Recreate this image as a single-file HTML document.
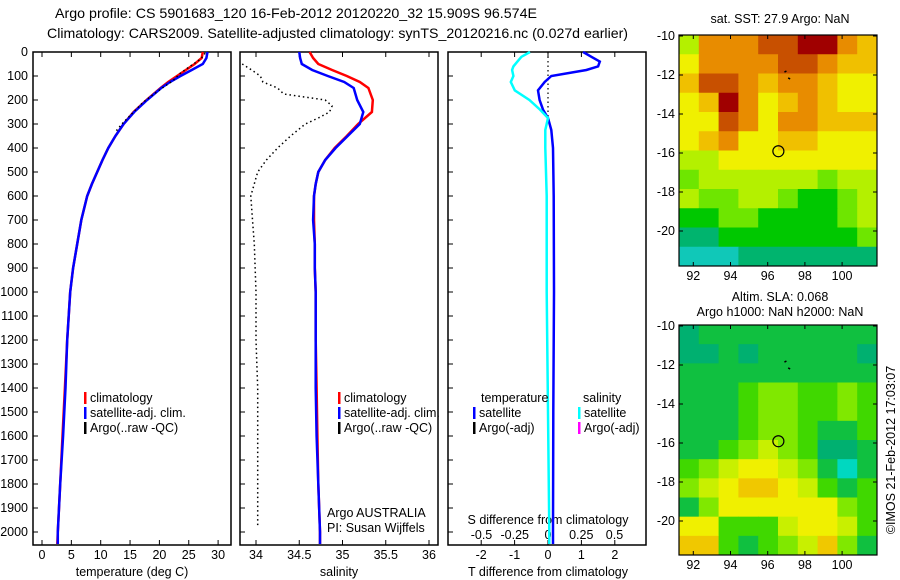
<!DOCTYPE html>
<html><head><meta charset="utf-8"><style>
body{margin:0;background:#fff}
svg{display:block;font-family:"Liberation Sans",sans-serif;font-size:12.5px}
</style></head><body>
<svg id="c" width="900" height="580" xmlns="http://www.w3.org/2000/svg">
<text x="55" y="18" font-size="14" textLength="482" lengthAdjust="spacingAndGlyphs">Argo profile: CS 5901683_120 16-Feb-2012 20120220_32 15.909S 96.574E</text>
<text x="47" y="38" font-size="14" textLength="581" lengthAdjust="spacingAndGlyphs">Climatology: CARS2009. Satellite-adjusted climatology: synTS_20120216.nc (0.027d earlier)</text>
</svg>
<script>
const depthLevels=[0,25,50,75,100,125,150,200,250,300,350,400,450,500,550,600,700,800,900,1000,1200,1400,1600,1800,2000,2050];
const tempClim=[27.4,27.2,26.0,24.5,23.0,21.5,20.2,17.8,15.6,13.9,12.5,11.3,10.3,9.4,8.5,7.7,6.7,6.0,5.3,4.8,4.3,3.9,3.5,3.1,2.7,2.6];
const tempSat=[28.2,28.0,27.4,25.5,23.6,21.8,20.3,17.9,15.7,13.9,12.5,11.3,10.3,9.4,8.5,7.7,6.7,6.0,5.3,4.8,4.3,4.0,3.6,3.1,2.7,2.7];
const argoTempDepth=[5,30,60,90,120,150,180,210,240,270,300,330];
const argoTemp=[27.8,27.0,25.2,23.5,22.3,20.5,18.8,17.2,16.0,14.8,13.6,12.6];
const salClim=[34.62,34.66,34.72,34.88,35.05,35.20,35.30,35.35,35.34,35.18,35.05,34.91,34.80,34.72,34.69,34.67,34.67,34.68,34.68,34.69,34.69,34.70,34.71,34.72,34.74,34.74];
const salSat=[34.50,34.51,34.53,34.65,34.83,35.02,35.13,35.17,35.24,35.20,35.06,34.92,34.80,34.72,34.69,34.67,34.66,34.68,34.68,34.69,34.69,34.69,34.70,34.72,34.74,34.74];
const argoSalDepth=[50,75,100,125,150,175,200,225,250,275,300,350,400,450,500,600,700,800,1000,1200,1400,1600,1800,1980];
const argoSal=[33.84,33.95,34.05,34.08,34.25,34.32,34.80,34.88,34.85,34.72,34.57,34.40,34.25,34.12,34.02,33.94,33.96,33.98,34.0,34.0,34.02,34.02,34.02,34.02];
const diffDepth=[0,20,40,60,75,100,125,160,200,240,275,325,400,600,1000,1500,2000,2050];
const tDiff=[1.05,1.3,1.55,1.5,1.15,0.1,-0.1,-0.3,-0.25,-0.15,0.0,0.1,0.15,0.17,0.18,0.16,0.15,0.15];
const sDiff=[-0.135,-0.2,-0.23,-0.26,-0.27,-0.26,-0.28,-0.25,-0.14,-0.06,0.0,-0.02,-0.02,-0.01,-0.01,0.0,0.01,0.01];
const depthTicks=[0,100,200,300,400,500,600,700,800,900,1000,1100,1200,1300,1400,1500,1600,1700,1800,1900,2000];
const tempTicks=[0,5,10,15,20,25,30];
const salTicks=[34,34.5,35,35.5,36];
const tDiffTicks=[-2,-1,0,1,2];
const sDiffTicks=[-0.5,-0.25,0,0.25,0.5];
const lonTicks=[92,94,96,98,100];
const latTicks=[-10,-12,-14,-16,-18,-20];
const argoLon=96.574, argoLat=-15.909;
const sstGrid=[
[4,7,7,7,8,8,9,9,7,6],
[5,7,7,7,7,8,8,7,6,6],
[6,8,8,7,6,7,7,6,5,5],
[5,6,9,7,5,6,7,6,5,5],
[5,5,8,7,5,7,7,6,6,6],
[5,6,7,5,5,6,6,5,5,5],
[4,4,5,5,5,5,5,5,5,5],
[3,4,4,4,4,4,4,3,4,4],
[4,3,3,4,4,3,2,2,3,4],
[2,2,3,3,2,2,2,2,3,4],
[1,1,2,2,2,2,2,2,2,3],
[0,0,0,1,1,1,1,1,1,1]];
const slaGrid=[
[1,2,2,2,2,2,2,2,2,2],
[1,1,2,1,2,2,2,2,2,1],
[2,2,2,2,2,2,2,2,2,2],
[2,2,2,3,4,4,3,3,4,3],
[2,2,2,3,4,4,3,3,4,3],
[2,2,2,3,4,4,3,2,2,3],
[2,2,3,4,5,4,3,1,1,2],
[3,4,5,6,6,5,4,2,0,2],
[4,5,6,7,7,6,5,3,2,3],
[2,4,6,6,6,6,6,6,4,3],
[6,6,3,3,3,5,6,6,5,3],
[7,7,3,2,3,4,5,7,4,2]];
const sstColors=["#10c8b8","#00b46e","#00c800","#6ee600","#b4f000","#f0f000","#f0c000","#e88c00","#c85000","#a00000"];
const slaColors=["#00d8c0","#00b070","#10c040","#40d800","#80e800","#c8f000","#f0f000","#f0c800"];

const NS="http://www.w3.org/2000/svg";
const svg=document.getElementById('c');
function mk(tag,attrs,parent){const e=document.createElementNS(NS,tag);for(const k in attrs)e.setAttribute(k,attrs[k]);(parent||svg).appendChild(e);return e;}
function txt(x,y,s,anchor,parent){const t=mk('text',{x:x,y:y,'text-anchor':anchor||'start'},parent);t.textContent=s;return t;}

const Y0=52,Y1=545;
const yD=d=>Y0+d*0.24;
const xT=v=>42+v*5.87;
const xS=v=>256+(v-34)*86.5;
const xTD=v=>548+v*33.4;
const xSD=v=>548+v*133;

function panel(x0,x1,name){
  const g=mk('g',{});
  
  
  mk('rect',{x:x0,y:Y0,width:x1-x0,height:Y1-Y0,fill:'none',stroke:'#000','stroke-width':1.5},g);
  depthTicks.forEach(d=>{mk('line',{x1:x0,x2:x0+5,y1:yD(d),y2:yD(d),stroke:'#000'},g);});
  return g;
}
function xticks(g,ticks,f,labelY){
  ticks.forEach(v=>{const x=f(v);
    mk('line',{x1:x,x2:x,y1:Y1,y2:Y1-5,stroke:'#000'},g);
    mk('line',{x1:x,x2:x,y1:Y0,y2:Y0+5,stroke:'#000'},g);
    if(labelY) txt(x,labelY,String(v),'middle',g);
  });
}
function line(g,xs,ds,fx,color,w,name,dash){
  const p=xs.map((v,i)=>fx(v).toFixed(1)+','+yD(ds[i]).toFixed(1)).join(' ');
  const e=mk('polyline',{points:p,fill:'none',stroke:color,'stroke-width':w},g);
  if(dash)e.setAttribute('stroke-dasharray',dash);
  
  
  return e;
}
function legend(g,x,y,color,label,name){
  mk('rect',{x:x,y:y-10,width:2.5,height:12,fill:color},g);
  const t=txt(x+6,y,label,'start',g);
  
  
}

depthTicks.forEach(d=>{txt(28,yD(d)+4,String(d),'end');});

const p1=panel(33,231,'temperature-panel');
xticks(p1,tempTicks,xT,559);
const xl1=txt(132,576,'temperature (deg C)','middle',p1);
line(p1,tempClim,depthLevels,xT,'#f00',2.5,'temp-climatology-line');
line(p1,tempSat,depthLevels,xT,'#00f',2.5,'temp-satellite-line');
line(p1,argoTemp,argoTempDepth,xT,'#000',1.5,'temp-argo-line','1.5 3');
legend(p1,84,402,'#f00','climatology','legend-climatology');
legend(p1,84,417,'#00f','satellite-adj. clim.','legend-satellite');
legend(p1,84,432,'#000','Argo(..raw -QC)','legend-argo');

const p2=panel(240,438,'salinity-panel');
xticks(p2,salTicks,xS,559);
const xl2=txt(339,576,'salinity','middle',p2);
line(p2,argoSal,argoSalDepth,xS,'#000',1.5,'sal-argo-line','1.5 3');
line(p2,salClim,depthLevels,xS,'#f00',2.5,'sal-climatology-line');
line(p2,salSat,depthLevels,xS,'#00f',2.5,'sal-satellite-line');
legend(p2,338,402,'#f00','climatology','legend-sal-climatology');
legend(p2,338,417,'#00f','satellite-adj. clim.','legend-sal-satellite');
legend(p2,338,432,'#000','Argo(..raw -QC)','legend-sal-argo');
txt(327,517,'Argo AUSTRALIA','start',p2);
txt(327,532,'PI: Susan Wijffels','start',p2);

const p3=panel(448,646,'difference-panel');
xticks(p3,tDiffTicks,xTD,559);
sDiffTicks.forEach(v=>txt(xSD(v),539,String(v),'middle',p3));
txt(548,524,'S difference from climatology','middle',p3);
const xl3=txt(548,576,'T difference from climatology','middle',p3);
mk('line',{x1:xTD(0),x2:xTD(0),y1:yD(0),y2:yD(280),stroke:'#000','stroke-dasharray':'1.5 3','stroke-width':1.2},p3);
line(p3,tDiff,diffDepth,xTD,'#00f',2.5,'t-diff-satellite-line');
line(p3,sDiff,diffDepth,xSD,'#0ff',2.5,'s-diff-satellite-line');
txt(481,402,'temperature','start',p3);
txt(583,402,'salinity','start',p3);
legend(p3,473,417,'#00f','satellite','legend-t-satellite');
legend(p3,473,432,'#000','Argo(-adj)','legend-t-argo');
legend(p3,578,417,'#0ff','satellite','legend-s-satellite');
legend(p3,578,432,'#f0f','Argo(-adj)','legend-s-argo');

function map(top,bot,grid,colors,name){
  const MX0=679,MX1=877;
  const g=mk('g',{});
  
  
  const rows=grid.length,cols=grid[0].length;
  const cw=(MX1-MX0)/cols,ch=(bot-top)/rows;
  grid.forEach((r,i)=>r.forEach((v,j)=>{
    mk('rect',{x:MX0+j*cw,y:top+i*ch,width:cw+0.5,height:ch+0.5,fill:colors[v]},g);
  }));
  const lx=v=>693.3+(v-92)*18.6;
  const ly=v=>top+1+(-10-v)*19.5;
  mk('rect',{x:MX0,y:top,width:MX1-MX0,height:bot-top,fill:'none',stroke:'#000','stroke-width':1.2},g);
  lonTicks.forEach(v=>{const x=lx(v);
    mk('line',{x1:x,x2:x,y1:top,y2:top+4,stroke:'#000'},g);
    mk('line',{x1:x,x2:x,y1:bot,y2:bot-4,stroke:'#000'},g);
    txt(x,bot+14,String(v),'middle',g);});
  latTicks.forEach(v=>{const y=ly(v);
    mk('line',{x1:MX0,x2:MX0+4,y1:y,y2:y,stroke:'#000'},g);
    mk('line',{x1:MX1,x2:MX1-4,y1:y,y2:y,stroke:'#000'},g);
    txt(MX0-4,y+4,String(v),'end',g);});
  const c=mk('circle',{cx:lx(argoLon),cy:ly(argoLat),r:5.5,fill:'none',stroke:'#000','stroke-width':1.2},g);
  
  
  mk('path',{d:`M${lx(96.9)} ${ly(-11.85)} l2 -1 M${lx(97.1)} ${ly(-12.15)} l2 1`,stroke:'#000','stroke-width':1.5},g);
}
map(35,266,sstGrid,sstColors,'sst-map');
map(325,555,slaGrid,slaColors,'sla-map');
txt(780,23,'sat. SST: 27.9 Argo: NaN','middle');
txt(780,301,'Altim. SLA: 0.068','middle');
txt(780,316,'Argo h1000: NaN h2000: NaN','middle');
const cr=txt(0,0,'©IMOS 21-Feb-2012 17:03:07','middle');
cr.setAttribute('transform','translate(895,450) rotate(-90)');


</script>
</body></html>
